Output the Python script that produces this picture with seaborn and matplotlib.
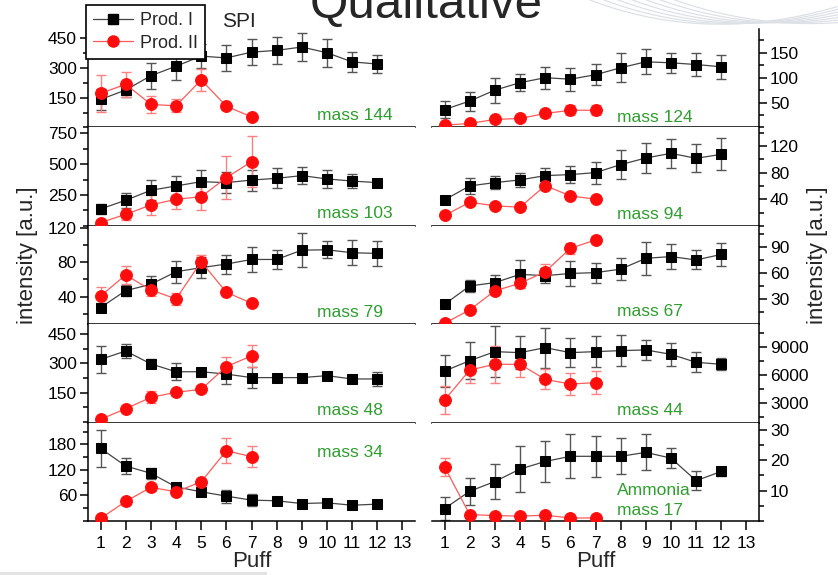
import matplotlib
matplotlib.use("Agg")
import matplotlib.pyplot as plt
import matplotlib.lines as mlines
import matplotlib.patches as mpatches
import matplotlib.ticker as mticker
import seaborn as sns
import numpy as np

puff_1 = list(range(1, 13))
puff_2 = list(range(1, 8))
puff_ticks = list(range(1, 14))

# --- left column ---
m144_p1 = [141, 189, 261, 309, 360, 351, 380, 389, 406, 377, 331, 320]
m144_p1_err = [55, 35, 66, 70, 60, 66, 65, 68, 72, 70, 50, 44]
m144_p2 = [172, 218, 116, 109, 240, 107, 53]
m144_p2_err = [94, 64, 45, 32, 55, 15, 6]

m103_p1 = [137, 207, 288, 323, 358, 350, 371, 385, 407, 380, 363, 350]
m103_p1_err = [43, 63, 81, 84, 95, 84, 85, 81, 72, 70, 58, 30]
m103_p2 = [26, 93, 169, 215, 236, 390, 520]
m103_p2_err = [10, 47, 78, 81, 108, 173, 205]

m79_p1 = [27.3, 46.9, 54.2, 68.8, 73.5, 77.7, 83, 83, 93.8, 94.2, 90.8, 90]
m79_p1_err = [5, 6, 10, 12.7, 12.5, 11, 14.8, 11.5, 19.6, 10, 14.6, 14]
m79_p2 = [40.8, 65, 47.7, 37.3, 80.4, 45, 32.3]
m79_p2_err = [10, 10.6, 6.7, 7, 7.7, 2, 2]

m48_p1 = [320, 363, 297, 257, 257, 245, 227, 227, 227, 237, 220, 220]
m48_p1_err = [70, 34, 23, 44, 10, 52, 53, 10, 10, 12, 12, 37]
m48_p2 = [14, 68, 126, 152, 167, 283, 338]
m48_p2_err = [5, 10, 30, 10, 8, 47, 55]

m34_p1 = [170.5, 129, 112, 80, 68.6, 58.4, 49, 47.5, 41, 42.7, 37, 39.6]
m34_p1_err = [43, 19.6, 13, 10, 6, 15, 14, 4, 4, 4, 4, 4]
m34_p2 = [6, 46, 79, 68.6, 92, 165, 151]
m34_p2_err = [3, 8, 8, 5, 5, 30, 25]

# --- right column ---
m124_p1 = [36, 53, 75, 90, 100, 97, 106, 120, 132, 130, 126.5, 122]
m124_p1_err = [18, 19, 25, 17, 22, 23, 21, 29, 25, 20, 23, 24]
m124_p2 = [4.4, 8, 16, 18, 28, 34.5, 34.5]
m124_p2_err = [2, 3, 6, 5, 7, 10, 10]

m94_p1 = [39, 60, 65, 69, 75.5, 77, 80, 92, 102, 109, 101.5, 107.5]
m94_p1_err = [3, 12, 10, 10, 12, 12.5, 16.5, 22, 23, 22, 21, 24]
m94_p2 = [15.5, 35.5, 30, 28, 60.5, 45, 40]
m94_p2_err = [2, 2, 2, 2, 3, 2, 2]

m67_p1 = [23.5, 44.6, 48.5, 58, 56.5, 59, 60, 64, 76.5, 78.5, 74.6, 81]
m67_p1_err = [3, 6.7, 9, 16, 9, 14, 11.5, 13, 19, 14, 11, 13.5]
m67_p2 = [1.5, 17, 39, 47.7, 61, 88, 97.7]
m67_p2_err = [1, 2, 4, 5, 9, 6, 4]

m44_p1 = [6430, 7550, 8530, 8420, 8960, 8420, 8530, 8640, 8710, 8240, 7370, 7160]
m44_p1_err = [1720, 1990, 2750, 1800, 2170, 1540, 1660, 1660, 1120, 1230, 1100, 670]
m44_p2 = [3290, 6540, 7160, 7160, 5530, 5020, 5170]
m44_p2_err = [1480, 1360, 2020, 1430, 1080, 1210, 1220]

m17_p1 = [4.1, 9.8, 13, 17.1, 19.6, 21.3, 21.3, 21.3, 22.6, 20.7, 13.3, 16.3]
m17_p1_err = [3.8, 4.4, 5.9, 7.5, 6.6, 7.3, 6.8, 5.9, 5.9, 3.3, 3.1, 1.6]
m17_p2 = [17.8, 2.1, 1.8, 1.6, 1.9, 1.0, 1.0]
m17_p2_err = [3, 0.5, 0.5, 0.5, 0.5, 0.3, 0.3]

left_panels = [
    (m144_p1, m144_p1_err, m144_p2, m144_p2_err, ["mass 144"], [150, 300, 450]),
    (m103_p1, m103_p1_err, m103_p2, m103_p2_err, ["mass 103"], [250, 500, 750]),
    (m79_p1, m79_p1_err, m79_p2, m79_p2_err, ["mass 79"], [40, 80, 120]),
    (m48_p1, m48_p1_err, m48_p2, m48_p2_err, ["mass 48"], [150, 300, 450]),
    (m34_p1, m34_p1_err, m34_p2, m34_p2_err, ["mass 34"], [60, 120, 180]),
]
right_panels = [
    (m124_p1, m124_p1_err, m124_p2, m124_p2_err, ["mass 124"], [50, 100, 150]),
    (m94_p1, m94_p1_err, m94_p2, m94_p2_err, ["mass 94"], [40, 80, 120]),
    (m67_p1, m67_p1_err, m67_p2, m67_p2_err, ["mass 67"], [30, 60, 90]),
    (m44_p1, m44_p1_err, m44_p2, m44_p2_err, ["mass 44"], [3000, 6000, 9000]),
    (m17_p1, m17_p1_err, m17_p2, m17_p2_err, ["Ammonia", "mass 17"], [10, 20, 30]),
]

# axis ranges and label placement (axes fraction)
left_ylims = [(0, 497), (0, 798), (8, 122), (-3, 500), (0, 231)]
right_ylims = [(0, 198), (0, 148), (0.5, 114), (845, 11500), (0, 32.4)]
left_label_y = [[0.116], [0.12], [0.114], [0.128], [0.70]]
right_label_y = [[0.105], [0.11], [0.124], [0.128], [0.305, 0.11]]

BLACK_LINE = '#444444'
BLACK_ERR = '#555555'
RED = '#ff0d0d'
RED_LINE = '#ff5a5a'
RED_ERR = '#ff8080'
GREEN = '#2e9e2e'

sns.set_theme(style="ticks")
plt.rcParams['font.family'] = ['Liberation Sans', 'DejaVu Sans']
plt.rcParams['axes.linewidth'] = 1.1

fig, axes = plt.subplots(5, 2, figsize=(8.38, 5.75), dpi=100, sharex=True)
fig.subplots_adjust(left=88 / 838, right=759 / 838, top=1 - 29 / 575,
                    bottom=1 - 521 / 575, hspace=0, wspace=17 / 327)


def draw_panel(ax, p1, p1_err, p2, p2_err):
    ax.errorbar(puff_1, p1, yerr=p1_err, fmt='none', ecolor=BLACK_ERR,
                elinewidth=1, capsize=3.5, capthick=1, zorder=2)
    ax.errorbar(puff_2, p2, yerr=p2_err, fmt='none', ecolor=RED_ERR,
                elinewidth=1, capsize=3.5, capthick=1, zorder=2)
    sns.lineplot(x=puff_1, y=p1, ax=ax, color=BLACK_LINE, linewidth=0.9,
                 marker='s', markersize=7.5, markerfacecolor='black',
                 markeredgecolor='black', zorder=3)
    sns.lineplot(x=puff_2, y=p2, ax=ax, color=RED_LINE, linewidth=0.9,
                 marker='o', markersize=8.5, markerfacecolor=RED,
                 markeredgecolor=RED, zorder=4)


for col, (panels, ylims, label_y) in enumerate([(left_panels, left_ylims, left_label_y),
                                               (right_panels, right_ylims, right_label_y)]):
    for row, (p1, p1_err, p2, p2_err, names, yt) in enumerate(panels):
        ax = axes[row, col]
        draw_panel(ax, p1, p1_err, p2, p2_err)
        ax.set_xlim(0.5, 13.5)
        ax.set_ylim(*ylims[row])
        ax.set_xticks(puff_ticks)
        ax.yaxis.set_major_locator(mticker.FixedLocator(yt))
        ax.yaxis.set_minor_locator(mticker.MultipleLocator((yt[1] - yt[0]) / 2))
        ax.set_ylabel('')
        ax.tick_params(axis='x', which='major', direction='out', length=6.5,
                       width=1.1, labelsize=12.5, pad=4, colors='black')
        ax.tick_params(axis='y', which='major', direction='out', length=6,
                       width=1.1, labelsize=12.5, pad=2, colors='black')
        ax.tick_params(axis='y', which='minor', direction='out', length=3.5,
                       width=1.1, colors='black')
        ax.spines['top'].set_visible(False)
        if col == 0:
            ax.spines['right'].set_visible(False)
            x0 = 0.70
        else:
            ax.spines['left'].set_visible(False)
            ax.yaxis.tick_right()
            ax.yaxis.set_label_position('right')
            x0 = 0.567
        for s in ax.spines.values():
            s.set_color('black')
        for name, yy in zip(names, label_y[row]):
            ax.text(x0, yy, name, transform=ax.transAxes, color=GREEN,
                    fontsize=12.5, ha='left', va='center')
        if row == 4:
            ax.set_xlabel('Puff', fontsize=16, labelpad=0)
        else:
            ax.set_xlabel('')

# axis titles
fig.text(27 / 838, 1 - 255 / 575, 'intensity [a.u.]', rotation=90,
         ha='center', va='center', fontsize=16)
fig.text(817 / 838, 1 - 255 / 575, 'intensity [a.u.]', rotation=90,
         ha='center', va='center', fontsize=16)
fig.text(222 / 838, 1 - 27 / 575, 'SPI', fontsize=15, ha='left', va='baseline')
# slide title, cropped at the top edge as in the source
fig.text(310 / 838, 1 - 18 / 575, 'Qualitative', fontsize=35.5,
         ha='left', va='baseline')

# faint background swoosh in the top right corner
t = np.linspace(0, 1, 60)
for k in range(7):
    p0 = np.array([580 + 14 * k, -4])
    pc = np.array([705 + 8 * k, 48 - 3 * k])
    p2 = np.array([846, 4 + 3 * k])
    pts = ((1 - t)[:, None] ** 2) * p0 + (2 * (1 - t) * t)[:, None] * pc + (t[:, None] ** 2) * p2
    fig.add_artist(mlines.Line2D(pts[:, 0] / 838, 1 - pts[:, 1] / 575,
                                 transform=fig.transFigure, color='#dde1e7',
                                 linewidth=0.9, zorder=0))

# thin grey strip along the bottom-left edge
fig.add_artist(mpatches.Rectangle((0, 0), 267 / 838, 3 / 575,
                                  transform=fig.transFigure, color='#e2e2e2',
                                  linewidth=0, zorder=0))

legend_elements = [
    mlines.Line2D([], [], color=BLACK_LINE, linewidth=0.9, marker='s',
                  markersize=7, markerfacecolor='black', markeredgecolor='black',
                  label='Prod. I'),
    mlines.Line2D([], [], color=RED_LINE, linewidth=0.9, marker='o',
                  markersize=8, markerfacecolor=RED, markeredgecolor=RED,
                  label='Prod. II'),
]
leg = fig.legend(handles=legend_elements, loc='upper left',
                 bbox_to_anchor=(86 / 838, 1 - 5 / 575), frameon=True,
                 fancybox=False, edgecolor='black', framealpha=1, fontsize=13,
                 handlelength=2.2, borderpad=0.4, labelspacing=0.3,
                 handletextpad=0.4, borderaxespad=0)
leg.get_frame().set_linewidth(1.2)

fig.savefig('out.png', dpi=100)
